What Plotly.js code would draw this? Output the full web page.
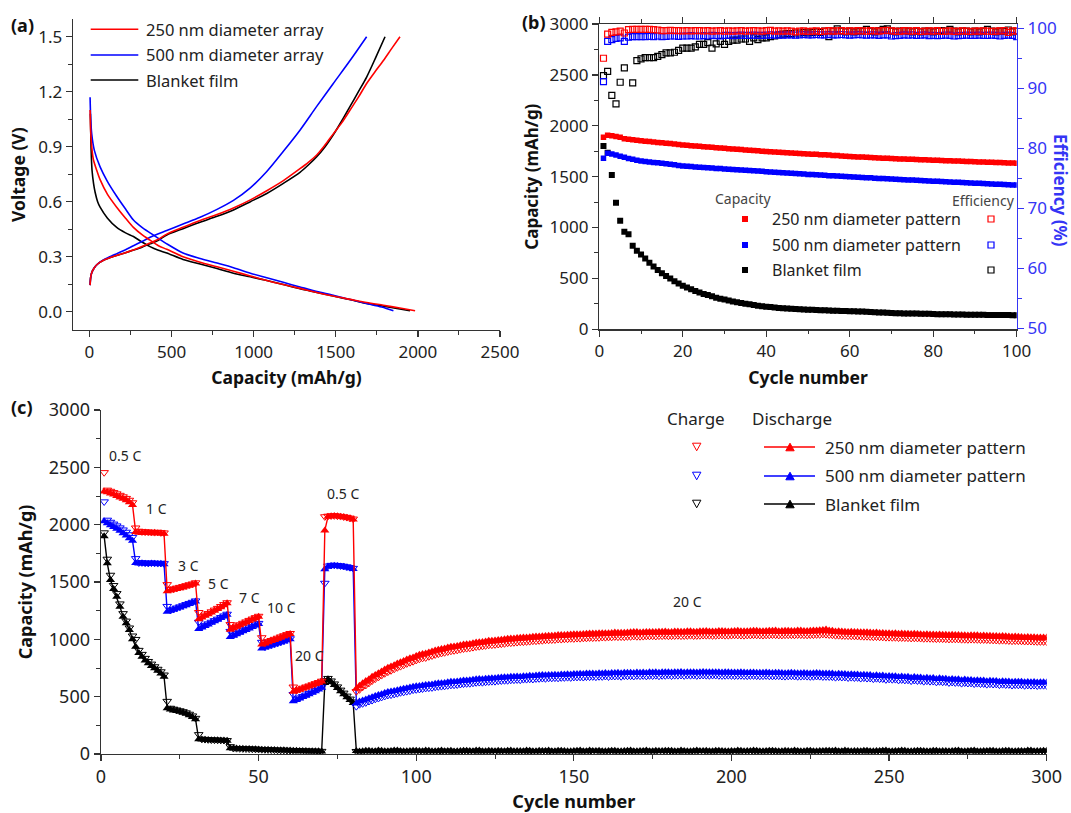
<!DOCTYPE html>
<html>
<head>
<meta charset="utf-8">
<script src="https://cdn.plot.ly/plotly-3.0.1.min.js"></script>
<style>html,body{margin:0;padding:0;background:#fff;}#chart{width:1071px;height:813px;}</style>
</head>
<body>
<div id="chart"></div>
<script>
// ---------------- Panel (a): voltage profiles ----------------
const a250DisX = [4,8,14,24,45,65,110,166,220,268,320,369,420,471,570,674,777,877,980,1080,1180,1282,1385,1485,1590,1688,1790,1890,1983];
const a250DisY = [1.10,0.98,0.90,0.83,0.77,0.72,0.64,0.57,0.51,0.46,0.42,0.39,0.36,0.34,0.30,0.27,0.245,0.22,0.195,0.17,0.148,0.127,0.105,0.085,0.067,0.05,0.035,0.02,0.005];
const a500DisX = [4,8,14,30,65,110,166,220,268,320,369,420,471,570,674,777,877,980,1080,1180,1282,1385,1485,1590,1688,1780,1851];
const a500DisY = [1.17,1.05,0.97,0.88,0.79,0.71,0.63,0.56,0.50,0.46,0.43,0.40,0.37,0.32,0.29,0.265,0.24,0.21,0.185,0.16,0.135,0.11,0.09,0.066,0.045,0.025,0.005];
const aBlkDisX = [6,9,12,16,25,35,50,65,110,166,220,268,320,369,420,471,570,674,777,877,980,1080,1180,1282,1385,1485,1590,1688,1790,1890,1952];
const aBlkDisY = [1.08,0.93,0.84,0.77,0.70,0.65,0.60,0.57,0.51,0.46,0.43,0.41,0.38,0.355,0.335,0.32,0.285,0.26,0.235,0.21,0.19,0.17,0.148,0.125,0.105,0.085,0.065,0.045,0.03,0.015,0.005];
const a250ChgX = [4,8,15,30,50,80,120,170,220,268,320,369,420,471,570,674,777,877,980,1080,1181,1282,1333,1384,1435,1485,1536,1587,1638,1688,1740,1790,1840,1891];
const a250ChgY = [0.145,0.19,0.215,0.24,0.26,0.278,0.293,0.308,0.322,0.336,0.355,0.375,0.395,0.423,0.46,0.497,0.53,0.566,0.61,0.66,0.715,0.78,0.815,0.855,0.91,0.97,1.03,1.1,1.17,1.245,1.31,1.37,1.435,1.5];
const a500ChgX = [4,8,15,30,50,80,120,170,220,268,320,380,471,570,674,777,877,978,1080,1181,1282,1384,1485,1587,1688];
const a500ChgY = [0.145,0.19,0.215,0.24,0.26,0.28,0.298,0.318,0.338,0.36,0.383,0.41,0.443,0.478,0.515,0.558,0.607,0.674,0.765,0.875,0.99,1.12,1.245,1.37,1.5];
const aBlkChgX = [4,8,15,30,50,80,120,170,220,268,320,369,420,471,570,674,777,877,980,1080,1181,1282,1333,1384,1435,1485,1536,1587,1638,1688,1745,1800];
const aBlkChgY = [0.145,0.19,0.215,0.24,0.26,0.278,0.293,0.308,0.322,0.336,0.352,0.37,0.39,0.418,0.453,0.488,0.52,0.555,0.6,0.645,0.7,0.76,0.8,0.845,0.9,0.965,1.04,1.12,1.2,1.28,1.39,1.5];
const aLegend = ["250 nm diameter array","500 nm diameter array","Blanket film"];

// ---------------- Panel (b): cycling at constant rate ----------------
const bCap250 = [1886,1908,1901,1894,1886,1873,1868,1863,1857,1852,
 1848,1845,1840,1836,1832,1829,1825,1821,1816,1812,
 1808,1804,1801,1798,1794,1791,1788,1784,1781,1778,
 1775,1772,1769,1766,1763,1760,1757,1754,1750,1747,
 1744,1742,1740,1737,1735,1733,1731,1728,1726,1723,
 1721,1719,1716,1714,1712,1709,1707,1704,1701,1698,
 1696,1694,1692,1690,1688,1686,1684,1682,1680,1678,
 1676,1674,1673,1671,1670,1668,1667,1665,1664,1662,
 1660,1659,1657,1656,1654,1653,1651,1650,1648,1647,
 1645,1644,1642,1641,1639,1638,1636,1635,1633,1631];
const bCap500 = [1680,1729,1722,1712,1700,1690,1678,1670,1662,1655,
 1650,1645,1640,1636,1631,1626,1621,1616,1610,1605,
 1602,1599,1596,1593,1590,1587,1584,1581,1579,1576,
 1573,1570,1568,1565,1562,1560,1557,1555,1552,1549,
 1546,1543,1541,1538,1535,1533,1530,1528,1525,1522,
 1520,1518,1515,1513,1510,1508,1506,1503,1501,1499,
 1497,1494,1492,1490,1488,1485,1483,1481,1479,1477,
 1475,1472,1470,1468,1466,1464,1462,1460,1458,1456,
 1454,1452,1450,1448,1446,1444,1442,1440,1438,1436,
 1434,1432,1430,1428,1426,1425,1423,1421,1419,1418];
const bCapBlk = [1800,1735,1516,1244,1067,959,933,821,772,735,
 695,655,617,583,551,524,498,472,451,428,
 410,393,377,362,348,336,324,311,301,292,
 283,274,266,258,251,245,238,232,227,222,
 218,214,210,207,204,201,199,197,195,193,
 191,189,188,186,185,183,182,181,180,178,
 177,176,174,172,170,168,166,164,162,160,
 158,157,156,155,156,155,154,153,152,150,
 149,148,148,147,146,146,145,144,143,143,
 142,142,141,141,140,141,140,140,139,139];
const bEff250 = [95.0,99.0,99.3,99.4,99.5,99.2,99.75,99.8,99.8,99.8,
 99.8,99.8,99.75,99.7,99.6,99.6,99.65,99.6,99.6,99.55,
 99.6,99.55,99.6,99.6,99.55,99.6,99.5,99.55,99.6,99.5,
 99.55,99.5,99.55,99.6,99.5,99.55,99.6,99.55,99.5,99.6,
 99.65,99.5,99.55,99.5,99.55,99.5,99.4,99.5,99.55,99.45,
 99.5,99.55,99.45,99.5,99.6,99.5,99.55,99.6,99.5,99.55,
 99.5,99.6,99.55,99.5,99.6,99.55,99.5,99.6,99.65,99.55,
 99.5,99.45,99.6,99.55,99.5,99.6,99.45,99.5,99.55,99.5,
 99.6,99.45,99.5,99.55,99.45,99.5,99.55,99.5,99.45,99.5,
 99.5,99.55,99.5,99.45,99.5,99.55,99.6,99.3,99.55,99.5];
const bEff500 = [91.1,97.8,98.1,98.3,98.4,97.8,98.5,98.6,98.6,98.6,
 98.6,98.65,98.6,98.7,98.6,98.65,98.7,98.7,98.65,98.7,
 98.7,98.75,98.7,98.7,98.75,98.7,98.8,98.75,98.7,98.8,
 98.8,98.75,98.8,98.85,98.8,98.8,98.85,98.8,98.8,98.85,
 98.9,98.85,98.9,98.85,98.9,98.9,98.85,98.9,98.95,98.9,
 98.9,98.95,98.9,98.9,98.95,98.9,98.9,98.95,98.9,98.85,
 98.9,98.95,98.9,98.85,98.9,98.9,98.8,98.9,98.9,98.7,
 98.75,98.8,98.9,98.85,98.9,98.8,98.85,98.9,98.75,98.8,
 98.75,98.8,98.85,98.8,98.7,98.75,98.8,98.85,98.8,98.8,
 98.85,98.8,98.8,98.85,98.8,98.7,98.8,98.85,98.8,98.6];
const bEffBlk = [92.1,92.8,88.8,87.4,91.0,93.4,null,90.9,94.6,94.9,
 95.1,95.1,95.1,95.3,95.6,95.9,95.9,96.0,96.3,96.7,
 96.7,96.7,96.9,97.3,97.3,97.6,96.7,97.4,97.8,97.3,
 97.8,98.0,98.0,98.2,98.2,97.8,98.4,98.1,98.4,98.4,
 98.6,98.7,98.9,99.0,99.1,99.1,99.2,99.2,99.3,99.2,
 99.3,99.4,99.3,99.5,98.6,99.5,99.9,99.5,99.4,99.5,
 99.4,99.5,99.5,99.8,99.5,99.4,99.6,99.8,99.9,99.5,
 99.4,99.5,99.6,99.5,99.4,99.5,99.4,99.5,99.5,99.4,
 99.5,99.6,99.5,99.8,99.5,99.4,99.5,99.5,99.4,99.5,
 99.4,99.5,99.8,99.5,99.4,99.5,99.5,99.7,99.4,99.5];
const bLegend = ["250 nm diameter pattern","500 nm diameter pattern","Blanket film"];

// ---------------- Panel (c): rate capability ----------------
// main arrays: cycles 1..80, then 82..300 (even cycles); *Odd arrays: cycles 81..299
const cDis250 = [2290,2282,2272,2262,2250,2238,2226,2212,2196,2172,
 1935,1930,1928,1931,1927,1925,1929,1926,1923,1920,
 1420,1426,1432,1439,1446,1453,1461,1468,1476,1486,
 1176,1190,1205,1219,1234,1250,1264,1280,1298,1314,
 1084,1097,1110,1122,1135,1147,1160,1172,1184,1196,
 954,964,975,985,995,1005,1016,1026,1036,1046,
 543,552,561,571,580,590,600,610,620,632,
 1950,2068,2074,2076,2073,2070,2066,2061,2055,2046,
 596,636,674,704,738,764,790,812,834,855,
 872,885,902,915,929,937,949,958,966,975,
 982,988,994,1001,1007,1011,1015,1019,1024,1027,
 1031,1034,1037,1040,1044,1045,1048,1050,1052,1054,
 1056,1058,1058,1061,1063,1061,1065,1063,1067,1065,
 1068,1066,1070,1067,1070,1072,1068,1073,1070,1071,
 1074,1070,1073,1075,1071,1074,1076,1072,1075,1073,
 1077,1073,1076,1079,1086,1074,1070,1067,1066,1063,
 1062,1059,1059,1055,1054,1052,1051,1048,1048,1045,
 1045,1042,1042,1039,1039,1037,1036,1036,1035,1033,
 1031,1028,1028,1024,1024,1021,1020,1018,1017,1015];
const cDis250Odd = [570,618,652,690,720,752,775,800,825,842,
 866,876,893,910,920,935,942,955,960,972,
 977,987,990,997,1006,1008,1014,1016,1023,1024,
 1030,1031,1037,1038,1043,1044,1046,1050,1050,1054,
 1054,1059,1058,1059,1063,1060,1064,1064,1066,1068,
 1065,1068,1067,1070,1067,1071,1069,1069,1072,1069,
 1073,1070,1071,1074,1071,1073,1075,1071,1074,1073,
 1076,1073,1074,1077,1082,1076,1069,1068,1065,1064,
 1062,1061,1057,1056,1053,1051,1049,1049,1046,1046,
 1043,1043,1040,1040,1037,1038,1035,1034,1035,1032,
 1032,1029,1026,1026,1022,1022,1019,1019,1016,1016];
const cChg250 = [2455,2302,2292,2281,2270,2257,2244,2230,2214,2192,
 1972,1944,1939,1937,1938,1934,1933,1935,1931,1929,
 1478,1436,1441,1448,1454,1461,1469,1477,1484,1494,
 1235,1198,1212,1226,1241,1256,1271,1287,1304,1320,
 1130,1103,1116,1128,1141,1153,1166,1178,1190,1202,
 1015,970,981,991,1001,1011,1022,1032,1042,1052,
 585,556,566,575,585,594,604,614,624,636,
 2070,2075,2078,2079,2076,2073,2069,2064,2058,2050,
 562,600,638,670,702,728,754,776,798,818,
 836,850,866,879,892,902,912,921,930,938,
 945,951,957,963,969,974,978,982,986,990,
 994,997,1000,1003,1006,1008,1011,1013,1015,1017,
 1019,1021,1021,1024,1025,1026,1028,1027,1030,1029,
 1031,1030,1032,1031,1033,1034,1032,1035,1034,1035,
 1036,1034,1036,1037,1035,1037,1038,1036,1038,1037,
 1039,1037,1039,1041,1043,1038,1034,1031,1029,1027,
 1025,1023,1022,1019,1017,1016,1014,1012,1011,1009,
 1008,1006,1005,1003,1002,1001,999,1000,998,997,
 994,992,991,988,987,985,983,982,980,979];
const cChg250Odd = [545,584,618,655,686,716,741,764,788,807,
 828,840,857,873,885,898,906,918,924,935,
 941,950,954,960,968,972,977,980,986,989,
 994,996,1001,1003,1007,1009,1011,1014,1015,1018,
 1019,1023,1022,1024,1027,1025,1028,1029,1030,1032,
 1030,1033,1031,1034,1032,1035,1034,1033,1036,1034,
 1037,1035,1036,1038,1036,1037,1039,1036,1038,1038,
 1040,1038,1039,1041,1045,1040,1034,1032,1030,1028,
 1026,1025,1021,1020,1017,1016,1013,1013,1010,1010,
 1007,1007,1004,1004,1001,1002,999,998,999,996,
 996,993,990,990,986,986,983,983,980,980];
const cDis500 = [2030,2012,1996,1980,1964,1946,1926,1905,1882,1860,
 1666,1661,1663,1660,1658,1662,1660,1657,1659,1655,
 1240,1249,1258,1268,1278,1288,1298,1308,1318,1330,
 1090,1104,1117,1130,1144,1158,1171,1185,1199,1214,
 1020,1032,1045,1057,1070,1082,1095,1108,1120,1134,
 920,929,938,946,955,963,972,982,991,1000,
 460,472,484,497,509,522,535,548,562,578,
 1612,1634,1640,1641,1639,1636,1632,1627,1621,1614,
 458,476,496,514,532,544,556,568,579,590,
 597,604,612,618,625,630,636,642,647,653,
 656,661,665,669,673,676,679,682,685,688,
 690,692,694,696,698,699,701,703,704,706,
 706,708,709,709,711,711,712,713,712,714,
 713,715,714,714,714,713,714,712,712,711,
 711,710,711,709,709,708,708,706,707,706,
 705,705,704,705,703,701,700,698,696,694,
 692,689,687,684,681,679,676,673,671,668,
 665,662,660,657,654,651,649,646,644,641,
 639,637,635,633,631,630,628,627,626,624];
const cDis500Odd = [440,466,486,506,522,540,549,563,573,586,
 593,602,607,616,620,629,632,640,643,651,
 652,659,661,667,669,674,674,679,680,686,
 686,690,690,694,694,698,697,701,700,703,
 702,706,704,708,706,709,707,710,708,712,
 710,713,711,713,711,715,712,714,711,713,
 710,712,709,711,708,711,707,709,705,708,
 704,707,703,706,702,702,696,697,693,693,
 688,688,683,683,677,678,672,672,666,667,
 661,661,655,656,650,650,644,645,640,640,
 635,636,631,632,627,629,625,626,623,626];
const cChg500 = [2200,2040,2022,2006,1990,1973,1955,1935,1913,1890,
 1705,1668,1669,1666,1664,1667,1665,1663,1664,1661,
 1288,1255,1264,1274,1284,1294,1304,1314,1324,1336,
 1150,1110,1123,1136,1150,1164,1177,1191,1205,1220,
 1070,1038,1051,1063,1076,1088,1101,1114,1126,1140,
 975,935,944,952,961,969,978,988,997,1006,
 520,478,490,503,515,528,541,554,568,584,
 1490,1640,1646,1647,1645,1642,1638,1633,1627,1620,
 432,448,468,486,504,516,528,540,551,562,
 569,576,584,590,597,602,608,614,619,625,
 628,633,637,641,645,648,651,654,657,660,
 662,664,666,668,670,671,673,675,676,678,
 678,680,681,681,683,683,684,685,684,686,
 685,687,686,686,686,685,686,684,684,683,
 683,682,683,681,681,680,680,678,679,678,
 677,677,676,677,675,673,672,670,668,666,
 664,661,659,656,653,651,648,645,643,640,
 637,634,632,629,626,623,621,618,616,613,
 611,609,607,605,603,602,600,599,598,596];
const cChg500Odd = [415,440,460,479,495,513,522,536,546,559,
 565,574,579,588,592,601,604,612,615,623,
 624,631,633,639,641,646,646,651,652,658,
 658,662,662,666,666,670,669,673,672,675,
 674,678,676,680,678,681,679,682,680,684,
 682,685,683,685,683,687,684,686,683,685,
 682,684,681,683,680,683,679,681,677,680,
 676,679,675,678,674,674,668,669,665,665,
 660,660,655,655,649,650,644,644,638,639,
 633,633,627,628,622,622,616,617,612,612,
 607,608,603,604,599,601,597,598,595,598];
const cDisBlk = [1900,1663,1517,1440,1372,1285,1198,1140,1081,1000,
 936,880,849,815,791,768,747,725,703,674,
 398,388,380,374,369,360,350,338,322,302,
 128,126,124,122,121,120,119,118,117,116,
 50,48,47,46,45,44,43,42,41,40,
 38,37,36,35,34,33,33,32,31,30,
 29,28,27,27,26,25,24,24,23,22,
 620,652,628,602,576,548,522,496,470,445,
 22,28,25,30,24,27,31,23,26,29,
 25,28,24,30,27,22,26,29,25,31,
 24,27,28,23,30,26,25,29,24,27,
 30,25,28,24,26,31,23,27,29,25,
 28,24,26,30,25,27,23,29,26,28,
 25,30,24,27,26,29,23,28,25,27,
 30,24,26,28,25,29,27,23,26,30,
 25,28,24,27,29,26,24,30,25,27,
 28,23,26,29,25,27,30,24,26,28,
 25,29,24,27,26,30,23,28,25,27,
 29,24,26,28,25,27,30,24,26,28];
const cDisBlkOdd = [27,23,29,25,28,24,30,26,23,28,
 26,31,24,27,25,29,23,28,26,30,
 25,28,23,27,29,24,26,30,25,28,
 27,24,29,26,23,28,25,30,27,24,
 26,29,25,28,24,27,30,23,26,29,
 28,24,27,25,30,26,23,29,27,25,
 24,28,26,30,23,27,29,25,28,24,
 27,25,29,23,26,28,30,24,27,26,
 25,29,24,27,30,23,26,28,25,29,
 27,24,28,26,23,29,25,27,30,24,
 26,28,25,29,24,27,23,30,26,28];
const cChgBlk = [1930,1700,1560,1470,1400,1310,1225,1160,1100,1030,
 1000,905,870,835,808,785,762,740,718,690,
 460,400,392,385,378,370,360,348,333,312,
 170,130,128,126,124,123,122,121,120,118,
 65,50,49,48,47,46,45,44,43,42,
 40,39,38,37,36,35,34,34,33,32,
 31,30,29,28,28,27,26,25,25,24,
 640,660,638,612,586,558,532,506,480,455,
 20,24,22,26,21,25,27,20,23,25,
 22,24,21,27,24,19,23,26,22,27,
 21,24,25,20,26,23,22,26,21,24,
 27,22,25,21,23,27,20,24,26,22,
 25,21,23,27,22,24,20,26,23,25,
 22,27,21,24,23,26,20,25,22,24,
 27,21,23,25,22,26,24,20,23,27,
 22,25,21,24,26,23,21,27,22,24,
 25,20,23,26,22,24,27,21,23,25,
 22,26,21,24,23,27,20,25,22,24,
 26,21,23,25,22,24,27,21,23,25];
const cChgBlkOdd = [23,20,25,22,24,21,26,23,20,25,
 23,27,21,24,22,26,20,25,23,27,
 22,25,20,24,26,21,23,27,22,25,
 24,21,26,23,20,25,22,27,24,21,
 23,26,22,25,21,24,27,20,23,26,
 25,21,24,22,27,23,20,26,24,22,
 21,25,23,27,20,24,26,22,25,21,
 24,22,26,20,23,25,27,21,24,23,
 22,26,21,24,27,20,23,25,22,26,
 24,21,25,23,20,26,22,24,27,21,
 23,25,22,26,21,24,20,27,23,25];
const cLegend = ["250 nm diameter pattern","500 nm diameter pattern","Blanket film"];
const cRateLabels = [
  {t:"0.5 C", c:7.5, v:2600}, {t:"1 C", c:17.6, v:2145}, {t:"3 C", c:27.6, v:1648},
  {t:"5 C", c:37.3, v:1491}, {t:"7 C", c:47.1, v:1369}, {t:"10 C", c:57.2, v:1282},
  {t:"20 C", c:66.0, v:855}, {t:"0.5 C", c:76.9, v:2276}, {t:"20 C", c:186.2, v:1326}
];

// ---------------- build ----------------
const W = 1071, H = 813;
const X = px => px / W;
const Y = py => 1 - py / H;
const FONT = "Noto Sans, DejaVu Sans, sans-serif";
const RED = "#ff0000", BLUE = "#0000ff", BLK = "#000000", AXBLUE = "#3535f5";

const bCycles = bCap250.map((_, i) => i + 1);
// merge main (1..80, 82..300 even) and odd (81..299) arrays into one cycle-ordered series
function mergeC(main, odd) {
  const xs = [], ys = [];
  for (let i = 0; i < 80; i++) { xs.push(i + 1); ys.push(main[i]); }
  for (let k = 0; k < odd.length; k++) {
    xs.push(81 + 2 * k); ys.push(odd[k]);
    xs.push(82 + 2 * k); ys.push(main[80 + k]);
  }
  return {xs, ys};
}

const traces = [];
// (a)
[[aBlkDisX,aBlkDisY,BLK],[aBlkChgX,aBlkChgY,BLK],
 [a500DisX,a500DisY,BLUE],[a500ChgX,a500ChgY,BLUE],
 [a250DisX,a250DisY,RED],[a250ChgX,a250ChgY,RED]].forEach(([x,y,col]) => {
  traces.push({x, y, xaxis:'x', yaxis:'y', mode:'lines', line:{color:col, width:1.6, shape:'spline', smoothing:0.8}, hoverinfo:'skip'});
});
// (b) capacity
[[bCapBlk,BLK,6],[bCap500,BLUE,5.5],[bCap250,RED,5.5]].forEach(([y,col,s]) => {
  traces.push({x:bCycles, y, xaxis:'x2', yaxis:'y2', mode:'markers', marker:{symbol:'square', size:s, color:col}, hoverinfo:'skip'});
});
// (b) efficiency
[[bEffBlk,BLK],[bEff500,BLUE],[bEff250,RED]].forEach(([y,col]) => {
  traces.push({x:bCycles, y, xaxis:'x2', yaxis:'y3', mode:'markers', marker:{symbol:'square-open', size:6, color:col, line:{width:1.2, color:col}}, hoverinfo:'skip'});
});
// (c)
[[cChgBlk,cChgBlkOdd,cDisBlk,cDisBlkOdd,BLK],[cChg500,cChg500Odd,cDis500,cDis500Odd,BLUE],[cChg250,cChg250Odd,cDis250,cDis250Odd,RED]]
.forEach(([chg,chgO,dis,disO,col]) => {
  const c = mergeC(chg, chgO), d = mergeC(dis, disO);
  traces.push({x:c.xs, y:c.ys, xaxis:'x3', yaxis:'y4', mode:'markers', marker:{symbol:'triangle-down-open', size:7.5, color:col, line:{width:1, color:col}}, hoverinfo:'skip'});
  traces.push({x:d.xs, y:d.ys, xaxis:'x3', yaxis:'y4', mode:'lines+markers', line:{color:col, width:1.4}, marker:{symbol:'triangle-up', size:8, color:col}, hoverinfo:'skip'});
});

const tickCol = "#333";
function ax(extra) {
  return Object.assign({
    showline:true, linecolor:tickCol, linewidth:1.4, ticks:'outside', ticklen:6, tickwidth:1.3, tickcolor:tickCol,
    showgrid:false, zeroline:false, tickfont:{family:FONT, size:17, color:'#222'}, fixedrange:true
  }, extra);
}
function minor(d) { return {dtick:d, ticks:'outside', ticklen:3.5, tickwidth:1, tickcolor:tickCol, showgrid:false}; }
const titleFont = (size, color) => ({family:FONT, size:size, weight:'bold', color:color || '#111'});

const layout = {
  width:W, height:H, margin:{l:0,r:0,t:0,b:0}, paper_bgcolor:'#fff', plot_bgcolor:'rgba(0,0,0,0)', showlegend:false,
  xaxis: ax({domain:[X(73),X(500)], range:[-100,2500], anchor:'y', tick0:0, dtick:500, minor:minor(250),
    title:{text:'Capacity (mAh/g)', font:titleFont(17.5), standoff:10}}),
  yaxis: ax({domain:[Y(330),Y(19.3)], range:[-0.1,1.595], anchor:'x', tick0:0, dtick:0.3, tickformat:'.1f', minor:minor(0.15),
    title:{text:'Voltage (V)', font:titleFont(17.5), standoff:8}}),
  xaxis2: ax({domain:[X(599.3),X(1016.7)], range:[0,100], anchor:'y2', tick0:0, dtick:20, minor:minor(10), mirror:'ticks',
    title:{text:'Cycle number', font:titleFont(17.5), standoff:10}}),
  yaxis2: ax({domain:[Y(329.3),Y(24)], range:[0,3000], anchor:'x2', tick0:0, dtick:500, minor:minor(250),
    title:{text:'Capacity (mAh/g)', font:titleFont(17), standoff:6}}),
  yaxis3: ax({overlaying:'y2', side:'right', anchor:'x2', range:[49.87,100.7], tick0:50, dtick:10, minor:Object.assign(minor(5),{tickcolor:AXBLUE}),
    linecolor:AXBLUE, tickcolor:AXBLUE, tickfont:{family:FONT, size:17, color:AXBLUE}}),
  xaxis3: ax({domain:[X(101),X(1046.7)], range:[0,300], anchor:'y4', tick0:0, dtick:50, minor:minor(25), tickfont:{family:FONT, size:18, color:'#222'},
    title:{text:'Cycle number', font:titleFont(18), standoff:9}}),
  yaxis4: ax({domain:[Y(754),Y(410)], range:[0,3000], anchor:'x3', tick0:0, dtick:500, minor:minor(250), tickfont:{family:FONT, size:18, color:'#222'},
    title:{text:'Capacity (mAh/g)', font:titleFont(18), standoff:11}}),
  annotations:[], shapes:[]
};

const ann = (text, px, py, opts) => layout.annotations.push(Object.assign({
  text, x:X(px), y:Y(py), xref:'paper', yref:'paper', showarrow:false, xanchor:'center', yanchor:'middle',
  font:{family:FONT, size:16, color:'#222'}
}, opts || {}));

// panel labels
ann('(a)', 22, 25, {font:{family:FONT, size:18, weight:'bold', color:'#111'}});
ann('(b)', 534, 22, {font:{family:FONT, size:18, weight:'bold', color:'#111'}});
ann('(c)', 22, 407, {font:{family:FONT, size:18, weight:'bold', color:'#111'}});
// right axis title (rotated clockwise as in the original)
ann('Efficiency (%)', 1060, 190, {textangle:90, font:{family:FONT, size:17, weight:'bold', color:AXBLUE}});

// legend (a)
const aCols = [RED, BLUE, BLK], aRows = [29.3, 55, 80];
aLegend.forEach((t, i) => {
  layout.shapes.push({type:'line', xref:'paper', yref:'paper', x0:X(90.7), x1:X(138.3), y0:Y(aRows[i]), y1:Y(aRows[i]), line:{color:aCols[i], width:1.6}});
  ann(t, 144, aRows[i], {xanchor:'left', font:{family:FONT, size:16.5, color:'#222'}});
});

// legend (b)
ann('Capacity', 743, 198, {font:{family:FONT, size:14, color:'#444'}});
ann('Efficiency', 983, 200, {font:{family:FONT, size:14, color:'#444'}});
const bRows = [219, 245, 270];
bLegend.forEach((t, i) => {
  const col = aCols[i], cy = bRows[i];
  layout.shapes.push({type:'rect', xref:'paper', yref:'paper', x0:X(742), x1:X(748), y0:Y(cy+3), y1:Y(cy-3), fillcolor:col, line:{width:0}});
  layout.shapes.push({type:'rect', xref:'paper', yref:'paper', x0:X(988), x1:X(994), y0:Y(cy+3), y1:Y(cy-3), fillcolor:'rgba(0,0,0,0)', line:{color:col, width:1.2}});
  ann(t, 769.5, cy, {xanchor:'left', font:{family:FONT, size:16, color:'#222'}});
});

// legend (c)
ann('Charge', 696, 418, {font:{family:FONT, size:17, color:'#222'}});
ann('Discharge', 792, 418, {font:{family:FONT, size:17, color:'#222'}});
const cRows = [447, 476, 504];
const tri = (cx, cy, down) => {
  const w = 4.2, h = 3.8;
  return down
    ? `M ${X(cx-w)} ${Y(cy-h)} L ${X(cx+w)} ${Y(cy-h)} L ${X(cx)} ${Y(cy+h)} Z`
    : `M ${X(cx-w)} ${Y(cy+h)} L ${X(cx+w)} ${Y(cy+h)} L ${X(cx)} ${Y(cy-h)} Z`;
};
cLegend.forEach((t, i) => {
  const col = aCols[i], cy = cRows[i];
  layout.shapes.push({type:'path', xref:'paper', yref:'paper', path:tri(696.7, cy, true), line:{color:col, width:1}, fillcolor:'rgba(0,0,0,0)'});
  layout.shapes.push({type:'line', xref:'paper', yref:'paper', x0:X(764), x1:X(815), y0:Y(cy), y1:Y(cy), line:{color:col, width:1.4}});
  layout.shapes.push({type:'path', xref:'paper', yref:'paper', path:tri(790, cy, false), line:{color:col, width:1}, fillcolor:col});
  ann(t, 823, cy, {xanchor:'left', font:{family:FONT, size:17, color:'#222'}});
});

// rate labels in (c)
cRateLabels.forEach(r => layout.annotations.push({
  text:r.t, x:r.c, y:r.v, xref:'x3', yref:'y4', showarrow:false, xanchor:'center', yanchor:'middle',
  font:{family:FONT, size:14, color:'#222'}
}));

Plotly.newPlot('chart', traces, layout, {staticPlot:true, displayModeBar:false});
</script>
</body>
</html>
